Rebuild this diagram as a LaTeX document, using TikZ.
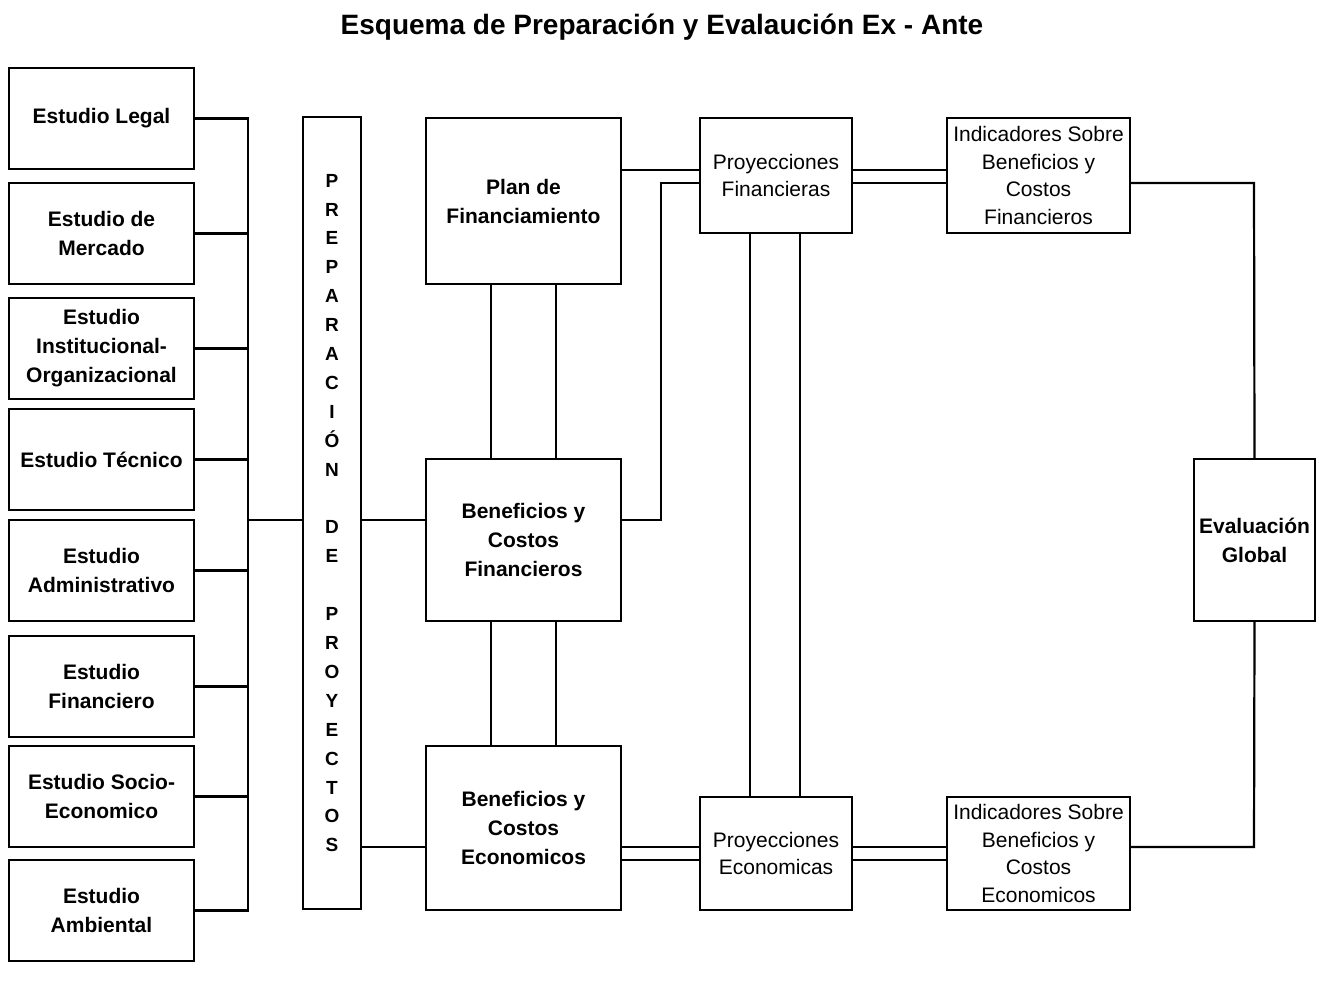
\documentclass[tikz,border=0pt]{standalone}
\usepackage{fontspec}
\setmainfont{Liberation Sans}
\begin{document}
\begin{tikzpicture}[x=1pt,y=-1pt,
  box/.style={draw, line width=2.2pt, inner sep=0pt, align=center,
    font=\fontsize{21}{29}\selectfont\bfseries},
  lbox/.style={box, font=\fontsize{21}{27.5}\selectfont},
  estudio/.style={box, minimum width=185pt, minimum height=101pt},
  con/.style={line width=2.2pt, line cap=rect}]
\useasboundingbox (0,0) rectangle (1322,985);

\node[font=\fontsize{28}{32}\selectfont\bfseries] (title) at (662,27) {Esquema de Preparación y Evalaución Ex - Ante};

% left column
\node[estudio] (legal) at (101.5,118.5) {Estudio Legal};
\node[estudio] (merc)  at (101.5,233.5) {Estudio de\\Mercado};
\node[estudio] (inst)  at (101.5,348.5) {Estudio\\Institucional-\\Organizacional};
\node[estudio] (tec)   at (101.5,459.5) {Estudio Técnico};
\node[estudio] (adm)   at (101.5,570.5) {Estudio\\Administrativo};
\node[estudio] (fin)   at (101.5,686.5) {Estudio\\Financiero};
\node[estudio] (soc)   at (101.5,796.5) {Estudio Socio-\\Economico};
\node[estudio] (amb)   at (101.5,910.5) {Estudio\\Ambiental};

% preparation column
\node[box, minimum width=58pt, minimum height=792pt,
  font=\fontsize{19}{28.9}\selectfont\bfseries] (prep) at (332,513)
  {P\\R\\E\\P\\A\\R\\A\\C\\I\\Ó\\N\\~\\D\\E\\~\\P\\R\\O\\Y\\E\\C\\T\\O\\S};

% middle column
\node[box, minimum width=195pt, minimum height=166pt] (plan) at (523.5,201) {Plan de\\Financiamiento};
\node[box, minimum width=195pt, minimum height=162pt] (bcf) at (523.5,540) {Beneficios y\\Costos\\Financieros};
\node[box, minimum width=195pt, minimum height=164pt] (bce) at (523.5,828) {Beneficios y\\Costos\\Economicos};

% projections
\node[lbox, minimum width=152pt, minimum height=115pt] (pf) at (776,175.5) {Proyecciones\\Financieras};
\node[lbox, minimum width=152pt, minimum height=113pt] (pe) at (776,853.5) {Proyecciones\\Economicas};

% indicators
\node[lbox, minimum width=183pt, minimum height=115pt] (if) at (1038.5,175.5) {Indicadores Sobre\\Beneficios y\\Costos\\Financieros};
\node[lbox, minimum width=183pt, minimum height=113pt] (ie) at (1038.5,853.5) {Indicadores Sobre\\Beneficios y\\Costos\\Economicos};

% global evaluation
\node[box, minimum width=121pt, minimum height=162pt] (eg) at (1254.5,540) {Evaluación\\Global};

% helper coordinates
\coordinate (bus) at (248,0);
\coordinate (jp) at (248,520);
\coordinate (ya) at (0,170);
\coordinate (yb) at (0,183);
\coordinate (yc) at (0,847);
\coordinate (yd) at (0,860);
\coordinate (bend) at (661,520);
\coordinate (xa) at (491,0);
\coordinate (xb) at (556,0);
\coordinate (xc) at (750,0);
\coordinate (xd) at (800,0);
\coordinate (xe) at (1254,0);

% left bus
\foreach \n in {legal,merc,inst,tec,adm,fin,soc,amb}
  \draw[con] (\n.east) -- (\n.east -| bus);
\draw[con] (legal.east -| bus) -- (amb.east -| bus);
\draw[con] (jp) -- (jp -| prep.west);

% prep to benefits
\draw[con] (prep.east |- jp) -- (bcf.west |- jp);
\draw[con] (prep.east |- yc) -- (bce.west |- yc);

% vertical pairs in middle column
\draw[con] (plan.south -| xa) -- (bcf.north -| xa);
\draw[con] (plan.south -| xb) -- (bcf.north -| xb);
\draw[con] (bcf.south -| xa) -- (bce.north -| xa);
\draw[con] (bcf.south -| xb) -- (bce.north -| xb);

% plan / bcf to projections
\draw[con] (plan.east |- ya) -- (pf.west |- ya);
\draw[con] (bcf.east |- bend) -- (bend) -- (bend |- yb) -- (pf.west |- yb);

% projections pair
\draw[con] (pf.south -| xc) -- (pe.north -| xc);
\draw[con] (pf.south -| xd) -- (pe.north -| xd);

% double lines to indicators
\draw[con] (pf.east |- ya) -- (if.west |- ya);
\draw[con] (pf.east |- yb) -- (if.west |- yb);
\draw[con] (bce.east |- yc) -- (pe.west |- yc);
\draw[con] (bce.east |- yd) -- (pe.west |- yd);
\draw[con] (pe.east |- yc) -- (ie.west |- yc);
\draw[con] (pe.east |- yd) -- (ie.west |- yd);

% indicators to global evaluation
\draw[con] (if.east |- yb) -- (xe |- yb) -- (eg.north);
\draw[con] (ie.east |- yc) -- (xe |- yc) -- (eg.south);
\end{tikzpicture}
\end{document}
